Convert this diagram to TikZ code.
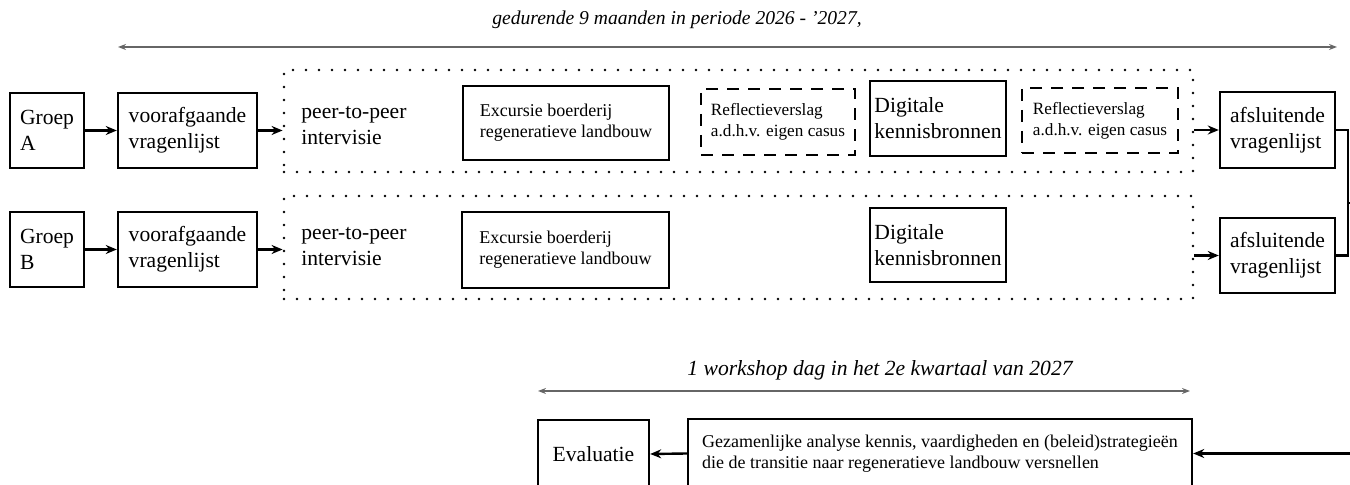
\documentclass[tikz,border=0pt]{standalone}
\usepackage{fontspec}
\setmainfont{Liberation Serif}
\usetikzlibrary{arrows.meta}
\begin{document}
\begin{tikzpicture}[x=0.5pt,y=-0.5pt,
  box/.style={draw, line width=1.2pt, inner sep=0pt, align=left, font=\fontsize{10.8}{13}\selectfont},
  sbox/.style={box, font=\fontsize{9}{10.5}\selectfont},
  dbox/.style={sbox, font=\fontsize{8.6}{10.5}\selectfont, dash pattern=on 6pt off 4.5pt},
  plain/.style={inner sep=0pt, align=left, font=\fontsize{10.8}{13}\selectfont},
  dotbox/.style={draw, line width=1.4pt, dash pattern=on 0pt off 6.5pt, line cap=round, inner sep=0pt},
  arr/.style={-{Stealth[length=5.5pt,width=4.5pt]}, line width=1.2pt},
  span/.style={{Stealth[length=4pt,width=3pt]}-{Stealth[length=4pt,width=3pt]}, line width=0.7pt, black!60},
  lbl/.style={inner sep=0pt, font=\itshape\fontsize{9.8}{11}\selectfont},
]
\clip (0,0) rectangle (1350,485);

% header
\node[lbl] (hd) at (677,20) {gedurende 9 maanden in periode 2026 - '2027,};
\coordinate (tl) at (118,47);
\coordinate (tr) at (1337,47);
\draw[span] (tl) -- (tr);

% dotted frames
\node[dotbox, minimum width=454.5pt, minimum height=51pt] (pdA) at (738.5,121) {};
\node[dotbox, minimum width=454.5pt, minimum height=51.5pt] (pdB) at (738.5,247.5) {};

% row A
\node[box, minimum width=37pt, minimum height=37.5pt] (gA) at (47,130.5) {Groep\\A};
\node[box, minimum width=69.5pt, minimum height=37.5pt] (vA) at (187.5,130.5) {voorafgaande\\vragenlijst};
\node[plain, anchor=west] (ppA) at (301,126) {peer-to-peer\\intervisie};
\node[sbox, minimum width=103pt, minimum height=37pt] (exA) at (566,123) {Excursie boerderij\\regeneratieve landbouw};
\node[dbox, minimum width=77pt, minimum height=33pt] (rA1) at (778,122) {Reflectieverslag\\a.d.h.v. eigen casus};
\node[box, minimum width=68pt, minimum height=37.5pt] (digA) at (938,118.5) {Digitale\\kennisbronnen};
\node[dbox, minimum width=78pt, minimum height=32.5pt] (rA2) at (1100,120.5) {Reflectieverslag\\a.d.h.v. eigen casus};
\node[box, minimum width=57.5pt, minimum height=38pt] (aA) at (1277.5,130) {afsluitende\\vragenlijst};

% row B
\node[box, minimum width=37pt, minimum height=37.5pt] (gB) at (47,249.5) {Groep\\B};
\node[box, minimum width=69.5pt, minimum height=37.5pt] (vB) at (187.5,249.5) {voorafgaande\\vragenlijst};
\node[plain, anchor=west] (ppB) at (301,247) {peer-to-peer\\intervisie};
\node[sbox, minimum width=103.5pt, minimum height=38pt] (exB) at (565.5,250) {Excursie boerderij\\regeneratieve landbouw};
\node[box, minimum width=68pt, minimum height=37pt] (digB) at (938,245) {Digitale\\kennisbronnen};
\node[box, minimum width=57.5pt, minimum height=37.5pt] (aB) at (1277.5,255.5) {afsluitende\\vragenlijst};

% arrows rows
\draw[arr] (gA.east) -- (vA.west);
\draw[arr] (vA.east) -- (vA.east -| pdA.west);
\draw[arr] (pdA.east |- aA.west) -- (aA.west);
\draw[arr] (gB.east) -- (vB.west);
\draw[arr] (vB.east) -- (vB.east -| pdB.west);
\draw[arr] (pdB.east |- aB.west) -- (aB.west);

% right bracket
\coordinate (rb) at (1348,203);
\coordinate (rs) at (1356,203);
\draw[line width=1.2pt] (aA.east) -| (rb) |- (aB.east);
\draw[line width=1.2pt] (rb) -- (rs);

% bottom
\node[lbl, font=\itshape\fontsize{10.8}{12}\selectfont] (wk) at (880,370) {1 workshop dag in het 2e kwartaal van 2027};
\coordinate (bl) at (538,391);
\coordinate (br) at (1190,391);
\draw[span] (bl) -- (br);
\node[box, minimum width=55.5pt, minimum height=34pt, align=center] (ev) at (593.5,454) {Evaluatie};
\node[sbox, font=\fontsize{9}{10.5}\selectfont, minimum width=252pt, minimum height=34.5pt] (gz) at (940,453.5) {Gezamenlijke analyse kennis, vaardigheden en (beleid)strategieën\\die de transitie naar regeneratieve landbouw versnellen};
\coordinate (inb) at (1356,453.5);
\draw[arr] (inb) -- (gz.east);
\draw[arr] (gz.west) -- (ev.east);
\end{tikzpicture}
\end{document}
